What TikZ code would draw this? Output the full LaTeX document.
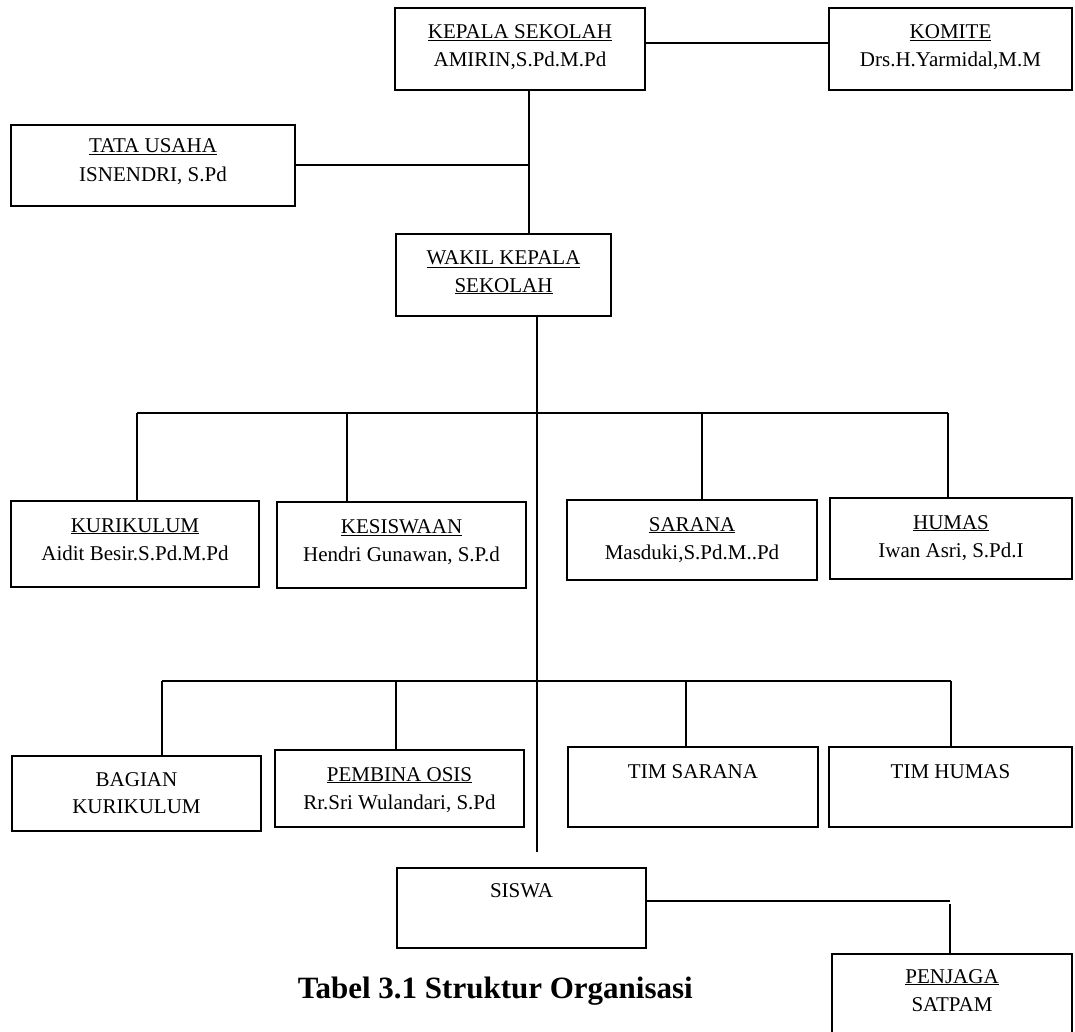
\documentclass[tikz,border=0pt]{standalone}
\usepackage{fontspec}
\setmainfont{Liberation Serif}
\newcommand\obox[5]{\node[orgbox, minimum width={#4-#2}, minimum height={#5-#3}] (#1) at ({(#2+#4)/2},{(#3+#5)/2}) {};}
\newcommand\oline[4]{\node[orgtext] (#1) at ([yshift=-#3pt]#2.north) {#4};}
\begin{document}
\begin{tikzpicture}[x=1pt,y=-1pt,
  orgbox/.style={draw=black, line width=2.5pt, inner sep=0pt, outer sep=0pt},
  orgtext/.style={font=\fontsize{21}{25}\selectfont, inner sep=0pt, anchor=base},
  conn/.style={draw=black, line width=2pt},
  titletext/.style={font=\bfseries\fontsize{31}{37}\selectfont, inner sep=0pt, anchor=base east}]
\useasboundingbox (0,0) rectangle (1075,1032);
\fill[white] (0,0) rectangle (1075,1032);

% boxes
\obox{kepala}{395}{8}{645}{90}
\oline{kepalaA}{kepala}{31}{\underline{KEPALA SEKOLAH}}
\oline{kepalaB}{kepala}{59}{AMIRIN,S.Pd.M.Pd}

\obox{komite}{829}{8}{1072}{90}
\oline{komiteA}{komite}{31}{\underline{KOMITE}}
\oline{komiteB}{komite}{59}{Drs.H.Yarmidal,M.M}

\obox{tata}{11}{125}{295}{206}
\oline{tataA}{tata}{28}{\underline{TATA USAHA}}
\oline{tataB}{tata}{57}{ISNENDRI, S.Pd}

\obox{wakil}{396}{234}{611}{316}
\oline{wakilA}{wakil}{31}{\underline{WAKIL KEPALA}}
\oline{wakilB}{wakil}{58}{\underline{SEKOLAH}}

\obox{kur}{11}{501}{259}{587}
\oline{kurA}{kur}{31}{\underline{KURIKULUM}}
\oline{kurB}{kur}{59}{Aidit Besir.S.Pd.M.Pd}

\obox{kes}{277}{502}{526}{588}
\oline{kesA}{kes}{31}{\underline{KESISWAAN}}
\oline{kesB}{kes}{59}{Hendri Gunawan, S.P.d}

\obox{sar}{567}{500}{817}{580}
\oline{sarA}{sar}{31}{\underline{SARANA}}
\oline{sarB}{sar}{59}{Masduki,S.Pd.M..Pd}

\obox{hum}{830}{498}{1072}{579}
\oline{humA}{hum}{31}{\underline{HUMAS}}
\oline{humB}{hum}{59}{Iwan Asri, S.Pd.I}

\obox{bag}{12}{756}{261}{831}
\oline{bagA}{bag}{30}{BAGIAN}
\oline{bagB}{bag}{57}{KURIKULUM}

\obox{pem}{275}{750}{524}{827}
\oline{pemA}{pem}{31}{\underline{PEMBINA OSIS}}
\oline{pemB}{pem}{59}{Rr.Sri Wulandari, S.Pd}

\obox{tsar}{568}{747}{818}{827}
\oline{tsarA}{tsar}{31}{TIM SARANA}

\obox{thum}{829}{747}{1072}{827}
\oline{thumA}{thum}{31}{TIM HUMAS}

\obox{sis}{397}{868}{646}{948}
\oline{sisA}{sis}{29}{SISWA}

\obox{pen}{832}{954}{1072}{1060}
\oline{penA}{pen}{29}{\underline{PENJAGA}}
\oline{penB}{pen}{57}{SATPAM}

\node[titletext] (title) at (693,998) {Tabel 3.1 Struktur Organisasi};

% connectors
\coordinate (kx) at (529,0);
\coordinate (tx) at (537,0);
\coordinate (tend) at (537,852);
\draw[conn] ([yshift=6pt]kepala.east) -- ([yshift=6pt]komite.west);
\draw[conn] (kepala.south -| kx) -- (wakil.north -| kx);
\draw[conn] (tata.east) -- (tata.east -| kx);
\draw[conn] (wakil.south -| tx) -- (tend);

\coordinate (b1l) at (137,413);
\coordinate (b1r) at (948,413);
\coordinate (b1kes) at (347,413);
\coordinate (b1sar) at (702,413);
\draw[conn] (b1l) -- (b1r);
\draw[conn] (b1l) -- (kur.north -| b1l);
\draw[conn] (b1kes) -- (kes.north -| b1kes);
\draw[conn] (b1sar) -- (sar.north -| b1sar);
\draw[conn] (b1r) -- (hum.north -| b1r);

\coordinate (b2l) at (162,681);
\coordinate (b2r) at (951,681);
\coordinate (b2pem) at (396,681);
\coordinate (b2tsar) at (686,681);
\draw[conn] (b2l) -- (b2r);
\draw[conn] (b2l) -- (bag.north -| b2l);
\draw[conn] (b2pem) -- (pem.north -| b2pem);
\draw[conn] (b2tsar) -- (tsar.north -| b2tsar);
\draw[conn] (b2r) -- (thum.north -| b2r);

\coordinate (sp) at (950,901);
\draw[conn] (sis.east |- sp) -- (sp);
\draw[conn] ([yshift=-3pt]sp) -- (pen.north -| sp);
\end{tikzpicture}
\end{document}
